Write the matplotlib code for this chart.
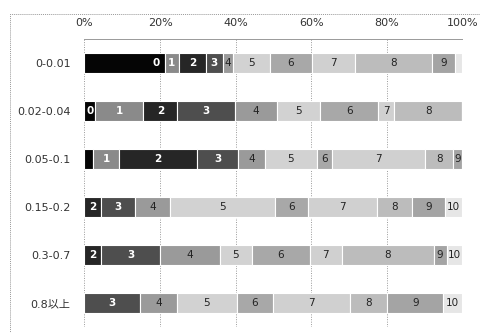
import numpy as np
import matplotlib.pyplot as plt
from matplotlib.patches import Rectangle

plt.rcParams['font.family'] = ['DejaVu Sans', 'Noto Sans CJK JP']

# 区分ごとの構成比 (%)
rows = ['0-0.01', '0.02-0.04', '0.05-0.1', '0.15-0.2', '0.3-0.7', '0.8以上']
classes = ['0', '1', '2', '3', '4', '5', '6', '7', '8', '9', '10']
share_0_001 = [21.3, 3.7, 7.2, 4.4, 2.6, 9.8, 11.3, 11.3, 20.4, 6.0, 2.0]
share_002_004 = [2.8, 12.8, 9.0, 15.3, 11.0, 11.5, 15.4, 4.2, 18.0, 0, 0]
share_005_01 = [2.2, 7.0, 20.5, 11.0, 7.1, 13.7, 4.0, 24.7, 7.4, 2.4, 0]
share_015_02 = [0, 0, 4.5, 8.9, 9.2, 27.8, 8.9, 18.1, 9.3, 8.8, 4.5]
share_03_07 = [0, 0, 4.5, 15.5, 15.9, 8.4, 15.4, 8.4, 24.3, 3.5, 4.1]
share_08 = [0, 0, 0, 14.7, 9.7, 15.9, 9.7, 20.3, 9.8, 14.9, 5.0]

shares = np.array([share_0_001, share_002_004, share_005_01,
                   share_015_02, share_03_07, share_08])

colors = ['#050505', '#8a8a8a', '#262626', '#4e4e4e', '#9a9a9a', '#d2d2d2',
          '#a8a8a8', '#d0d0d0', '#bcbcbc', '#a4a4a4', '#e6e6e6']
text_colors = ['white'] * 4 + ['#222222'] * 7

fig = plt.figure(figsize=(4.8, 3.33), dpi=100)
ax = fig.add_axes([0.176, 0.018, 0.787, 0.865])

# 外枠 (点線)
fig.patches.append(Rectangle((10 / 480, -0.1), 1.0, 1 - 14 / 333 + 0.1,
                             transform=fig.transFigure, fill=False,
                             edgecolor='#999999', linestyle=(0, (1, 1)),
                             linewidth=0.7))

y = np.arange(len(rows))
left = np.zeros(len(rows))
for j, cls in enumerate(classes):
    w = shares[:, j]
    ax.barh(y, w, left=left, height=0.42, color=colors[j],
            edgecolor='white', linewidth=0.8, zorder=2)
    for i in range(len(rows)):
        if w[i] < 2.3:
            continue
        if i == 0 and j == 0:
            xpos, ha = left[i] + w[i] - 1.5, 'right'
        else:
            xpos, ha = left[i] + w[i] / 2, 'center'
        ax.text(xpos, y[i], cls, ha=ha, va='center', fontsize=7.5,
                color=text_colors[j], fontweight='bold' if j < 4 else 'normal',
                zorder=3)
    left += w

ax.set_xlim(0, 100)
ax.set_ylim(len(rows) - 0.5, -0.5)
ax.set_xticks(np.arange(0, 101, 20))
ax.set_xticklabels([f'{v}%' for v in range(0, 101, 20)])
ax.xaxis.tick_top()
ax.set_yticks(y)
ax.set_yticklabels(rows)
ax.tick_params(axis='x', length=0, pad=8, labelsize=8, colors='#333333')
ax.tick_params(axis='y', length=0, pad=10, labelsize=8, colors='#333333')
ax.grid(axis='x', color='#999999', linestyle=(0, (1, 1.5)), linewidth=0.7, zorder=0)
for side in ['right', 'bottom', 'left']:
    ax.spines[side].set_visible(False)
ax.spines['top'].set_color('#999999')
ax.spines['top'].set_linestyle((0, (1, 1)))
ax.spines['top'].set_linewidth(0.7)

fig.savefig('out.png', dpi=100)
